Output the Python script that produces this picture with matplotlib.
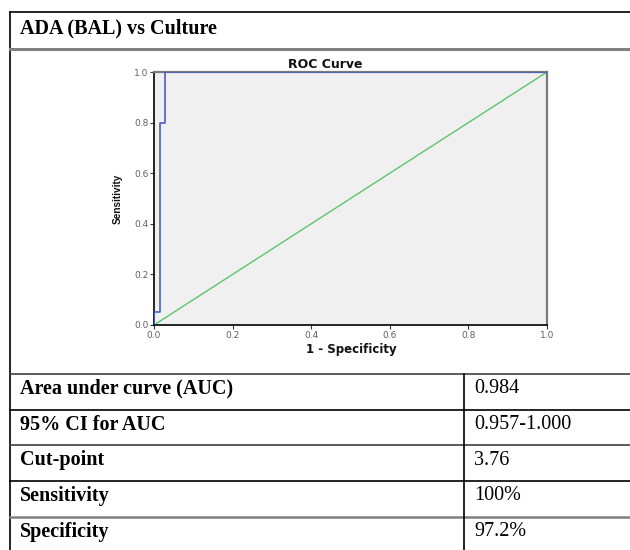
import matplotlib
matplotlib.use("Agg")
import matplotlib.pyplot as plt

# ---- data ----
title_text = "ADA (BAL) vs Culture"
roc_fpr = [0.0, 0.0, 0.014, 0.014, 0.028, 0.028, 1.0]
roc_tpr = [0.0, 0.053, 0.053, 0.8, 0.8, 1.0, 1.0]
ref_x = [0.0, 1.0]
ref_y = [0.0, 1.0]
ticks = [0.0, 0.2, 0.4, 0.6, 0.8, 1.0]
tick_labels = ["0.0", "0.2", "0.4", "0.6", "0.8", "1.0"]
row_labels = ["Area under curve (AUC)", "95% CI for AUC", "Cut-point", "Sensitivity", "Specificity"]
row_values = ["0.984", "0.957-1.000", "3.76", "100%", "97.2%"]

W, H = 630, 550
fig = plt.figure(figsize=(W / 100, H / 100), dpi=100)
fig.patch.set_facecolor("white")

# overlay in pixel coords
ov = fig.add_axes([0, 0, 1, 1])
ov.set_xlim(0, W)
ov.set_ylim(H, 0)
ov.axis("off")

serif = ["Liberation Serif", "DejaVu Serif"]
TFS = 14.5

# outer borders
ov.plot([9.5, W], [12, 12], color="black", lw=1.2)
ov.plot([9.5, 9.5], [12, H], color="black", lw=1.2)
ov.plot([9.5, W], [48.5, 48.5], color="#808080", lw=2.2)

ov.text(20, 28, title_text, fontsize=TFS, fontweight="bold", family=serif,
        va="center", ha="left", color="black")

row_lines = [374, 409.5, 445, 481, 517]
row_colors = ["#404040", "black", "#404040", "black", "#808080"]
row_lw = [1.2, 1.2, 1.2, 1.2, 1.8]
for y, c, lw in zip(row_lines, row_colors, row_lw):
    ov.plot([9.5, W], [y, y], color=c, lw=lw)
ov.plot([464, 464], [374, H], color="black", lw=1.2)

row_h = 35.7
for i, (lab, val) in enumerate(zip(row_labels, row_values)):
    yc = row_lines[0] + row_h * i + row_h / 2 - 3
    ov.text(20, yc, lab, fontsize=TFS, fontweight="bold", family=serif,
            va="center", ha="left", color="black")
    ov.text(474, yc, val, fontsize=TFS, family=serif,
            va="center", ha="left", color="black")

# ROC axes
left, right, top, bottom = 154, 547, 72, 325
aw, ah = right - left, bottom - top
ax = fig.add_axes([left / W, (H - bottom) / H, aw / W, ah / H])
ax.set_facecolor("#f0f0f0")
ax.plot(ref_x, ref_y, color="#5cc66a", lw=1.0, zorder=2)
ax.plot(roc_fpr, roc_tpr, color="#4a5fbf", lw=1.2, zorder=3)
ax.set_xlim(0, 1)
ax.set_ylim(0, 1)
ax.set_xticks(ticks)
ax.set_xticklabels(tick_labels)
ax.set_yticks(ticks)
ax.set_yticklabels(tick_labels)
for s in ["left", "bottom"]:
    ax.spines[s].set_color("black")
    ax.spines[s].set_linewidth(1.2)
for s in ["top", "right"]:
    ax.spines[s].set_color("#7a7a7a")
    ax.spines[s].set_linewidth(1.6)
ax.tick_params(direction="out", length=3, width=0.8, color="#333333",
               labelsize=6.5, labelcolor="#606060", pad=1)
for lbl in ax.get_xticklabels() + ax.get_yticklabels():
    lbl.set_family(["DejaVu Sans"])

sans_b = ["DejaVu Sans"]
ax.text((325 - left) / aw, 1 + (72 - 64) / ah, "ROC Curve", transform=ax.transAxes,
        fontsize=9, fontweight="bold", family=sans_b, ha="center", va="center",
        color="#111111")
ax.text((351 - left) / aw, -(349 - bottom) / ah, "1 - Specificity", transform=ax.transAxes,
        fontsize=8.5, fontweight="bold", family=sans_b, ha="center", va="center",
        color="#111111")
ax.text((118 - left) / aw, 0.5, "Sensitivity", transform=ax.transAxes, rotation=90,
        fontsize=7.2, fontweight="bold", family=["Liberation Sans", "DejaVu Sans"],
        ha="center", va="center", color="#111111")

fig.savefig("out.png", dpi=100, facecolor="white")
